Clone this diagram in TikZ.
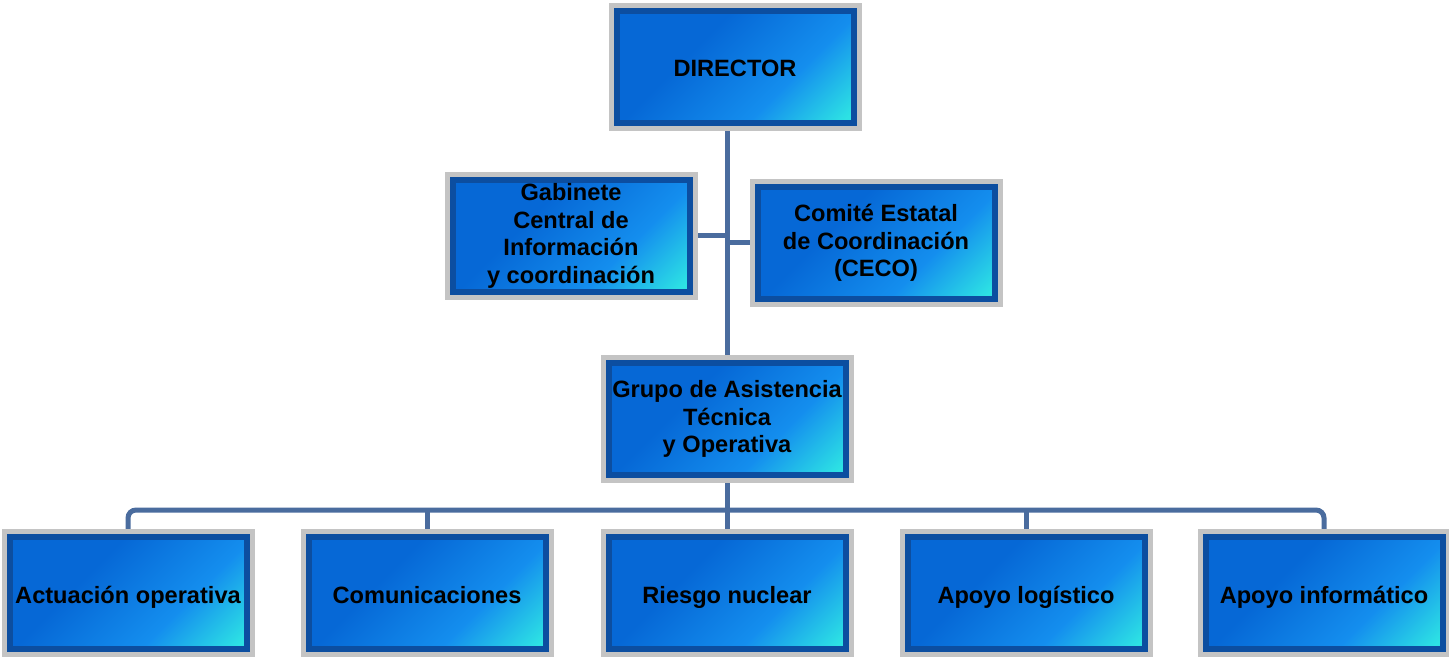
\documentclass[tikz,border=0pt]{standalone}
\usepackage{fontspec}
\setmainfont{Liberation Sans}
\usetikzlibrary{backgrounds}
\definecolor{boxblue}{RGB}{6,104,214}
\definecolor{boxmid}{RGB}{20,142,238}
\definecolor{boxcyan}{RGB}{45,226,228}
\definecolor{boxedge}{RGB}{12,78,160}
\definecolor{boxframe}{RGB}{196,196,196}
\definecolor{linkblue}{RGB}{74,108,158}
\pgfdeclareverticalshading{boxshade}{100bp}{color(0bp)=(boxcyan); color(17bp)=(boxcyan); color(36bp)=(boxmid); color(62bp)=(boxblue); color(100bp)=(boxblue)}

\begin{document}
\begin{tikzpicture}[x=0.5pt, y=-0.5pt, font=\bfseries\fontsize{11.8}{13.8}\selectfont,
    orgbox/.style={draw=boxedge, line width=3pt, shade, shading=boxshade, shading angle=45,
        preaction={draw=boxframe, line width=8pt},
        minimum width=118.5pt, minimum height=56pt, inner sep=0pt, align=center},
    unitbox/.style={orgbox, text height=11.5pt, text depth=1.5pt},
    link/.style={draw=linkblue, line width=2.5pt}]
    \useasboundingbox (0,0) rectangle (1449,657);

    \node[unitbox] (director) at (735,67) {DIRECTOR};
    \node[orgbox] (gabinete) at (571,236) {Gabinete\\Central de\\Información\\y coordinación};
    \node[orgbox] (ceco) at (876,243) {Comité Estatal\\de Coordinación\\(CECO)};
    \node[orgbox] (grupo) at (727,419) {Grupo de Asistencia\\Técnica\\y Operativa};

    \node[unitbox] (actuacion) at (128,593) {Actuación operativa};
    \node[unitbox] (comunicaciones) at (427,593) {Comunicaciones};
    \node[unitbox] (riesgo) at (727,593) {Riesgo nuclear};
    \node[unitbox] (logistico) at (1026,593) {Apoyo logístico};
    \node[unitbox] (informatico) at (1324,593) {Apoyo informático};

    \begin{scope}[on background layer]
        \draw[link] (grupo.north) -- (grupo.north |- director.south);
        \draw[link] (gabinete.east) -- (gabinete.east -| grupo.north);
        \draw[link] (ceco.west) -- (ceco.west -| grupo.north);
        \coordinate (bus) at (727,510);
        \draw[link] (grupo.south) -- (bus);
        \draw[link, rounded corners=4pt] (actuacion.north) |- (bus) -| (informatico.north);
        \foreach \n in {comunicaciones, riesgo, logistico}
            \draw[link] (\n.north) -- (\n.north |- bus);
    \end{scope}
\end{tikzpicture}
\end{document}
